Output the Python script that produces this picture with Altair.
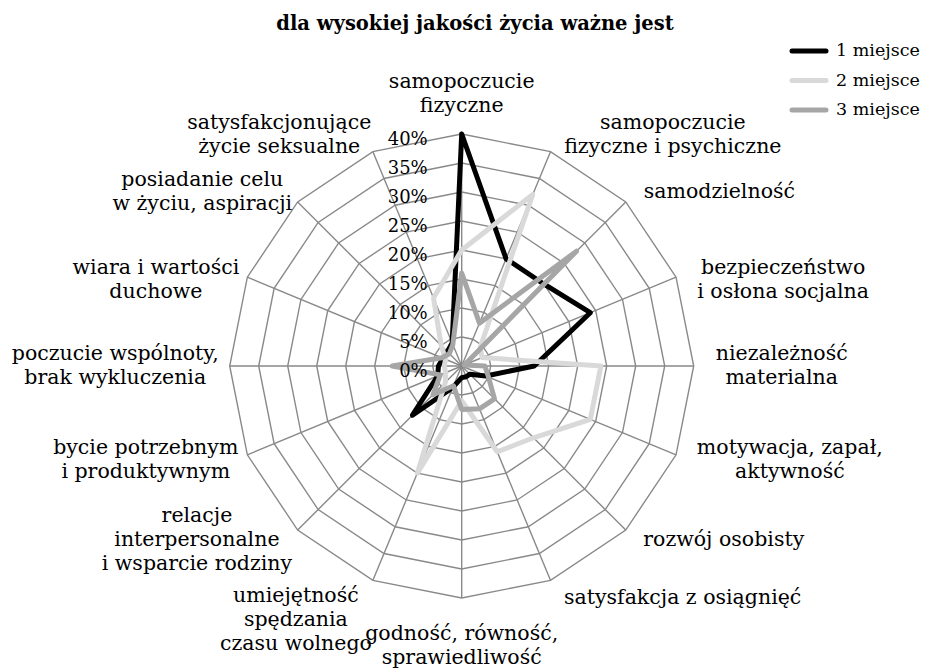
import math
import altair as alt
import pandas as pd

# ---------------- data ----------------
title_text = "dla wysokiej jakości życia ważne jest"

categories = [
    "samopoczucie\nfizyczne",
    "samopoczucie\nfizyczne i psychiczne",
    "samodzielność",
    "bezpieczeństwo\ni osłona socjalna",
    "niezależność\nmaterialna",
    "motywacja, zapał,\naktywność",
    "rozwój osobisty",
    "satysfakcja z osiągnięć",
    "godność, równość,\nsprawiedliwość",
    "umiejętność\nspędzania\nczasu wolnego",
    "relacje\ninterpersonalne\ni wsparcie rodziny",
    "bycie potrzebnym\ni produktywnym",
    "poczucie wspólnoty,\nbrak wykluczenia",
    "wiara i wartości\nduchowe",
    "posiadanie celu\nw życiu, aspiracji",
    "satysfakcjonujące\nżycie seksualne",
]

series_names = ["1 miejsce", "2 miejsce", "3 miejsce"]
first_place = [40, 20, 20, 24, 12.5, 4.5, 2, 2, 2, 4, 12, 4.5, 4, 3.5, 3.5, 4.3]
second_place = [20, 32, 4.5, 3.8, 24, 24, 17.5, 16, 6, 20, 4, 3, 3, 3, 5, 12.7]
third_place = [16, 8, 28, 0.5, 4, 5, 8, 8, 7.5, 3.7, 7, 4, 12, 3.7, 3, 4]
series_colors = ["#000000", "#d9d9d9", "#a6a6a6"]

tick_values = [0, 5, 10, 15, 20, 25, 30, 35, 40]
tick_labels = ["0%", "5%", "10%", "15%", "20%", "25%", "30%", "35%", "40%"]

# ---------------- layout ----------------
N = len(categories)
W, H = 917, 664
CX, CY = 453.7, 358.0          # centre of the radar inside the view (px)
PX = 5.8                        # pixels per percentage point
R_MAX = max(tick_values)
FONT = "DejaVu Serif"
LABEL_SIZE = 20.5
LINE_H = 24
GRID = "#898989"

x_scale = alt.Scale(domain=[-CX / PX, (W - CX) / PX], nice=False, zero=False)
y_scale = alt.Scale(domain=[-(H - CY) / PX, CY / PX], nice=False, zero=False)
color_scale = alt.Scale(domain=series_names, range=series_colors)


def X(f):
    return alt.X(f, type="quantitative", scale=x_scale, axis=None)


def Y(f):
    return alt.Y(f, type="quantitative", scale=y_scale, axis=None)


def px_to_x(p):
    return (p - CX) / PX


def px_to_y(p):
    return (CY - p) / PX


THETA = "datum.k * 2 * PI / %d" % N

# series table (loop closed by repeating the first category)
rows = []
for name, vals in zip(series_names, [first_place, second_place, third_place]):
    for j in range(N + 1):
        rows.append({"series": name, "k": j % N, "ord": j, "value": vals[j % N]})
series_df = pd.DataFrame(rows)

ring_df = pd.DataFrame(
    [{"level": L, "k": j % N, "ord": j} for L in tick_values[1:] for j in range(N + 1)]
)
spoke_df = pd.DataFrame({"k": list(range(N)), "r": [R_MAX] * N})
tick_df = pd.DataFrame({"level": tick_values, "label": tick_labels})

# approximate glyph widths (em) to place the centred multi-line category labels
GW = {'a': .596, 'b': .640, 'c': .560, 'd': .640, 'e': .592, 'f': .370, 'g': .640,
      'h': .648, 'i': .320, 'j': .316, 'k': .612, 'l': .320, 'm': .956, 'n': .648,
      'o': .602, 'p': .640, 'r': .478, 's': .513, 't': .402, 'u': .648, 'w': .818,
      'y': .565, 'z': .525, ' ': .318, ',': .318, 'ą': .596, 'ę': .592, 'ć': .560,
      'ś': .513, 'ł': .340, 'ó': .602, 'ż': .525, 'ź': .525, 'ń': .648}


def text_w(s):
    return sum(GW.get(ch, .6) for ch in s) * LABEL_SIZE


R_LABEL = 246.0    # px, anchor radius of the category labels
GAP_RIGHT = 8.0
GAP_LEFT = -4.0
lab_rows = []
for k, lab in enumerate(categories):
    th = 2 * math.pi * k / N
    s, c = math.sin(th), math.cos(th)
    lines = lab.split("\n")
    w = max(text_w(l) for l in lines)
    h = len(lines) * LINE_H
    ax, ay = R_LABEL * s, R_LABEL * c
    if abs(s) < 1e-6:
        cx, cy = 0.0, ay + math.copysign(h / 2 + (2 if c > 0 else 10), c)
    else:
        gap = GAP_RIGHT if s > 0 else GAP_LEFT
        cx = ax + math.copysign(w / 2 + gap, s)
        cy = ay
        if c < -0.9:
            cy -= 0.45 * (h - LINE_H) + 5
        elif c > 0.9:
            cy += 4
        elif c > 0.3 and abs(s) > 0.9:
            cy -= 8
    first_line_y = cy + (len(lines) - 1) * LINE_H / 2.0   # y axis points up
    lab_rows.append({"label": lab, "lx": cx / PX, "ly": first_line_y / PX})
label_df = pd.DataFrame(lab_rows)

# legend block (top right): swatch from 784 to 818 px, rows 29.5 px apart
LEG_X0, LEG_X1, LEG_TX, LEG_Y0, LEG_DY = 784, 818, 828, 43, 29.5
legend_df = pd.DataFrame([
    {"series": n,
     "x0": px_to_x(LEG_X0), "x1": px_to_x(LEG_X1), "tx": px_to_x(LEG_TX),
     "y": px_to_y(LEG_Y0 + i * LEG_DY)}
    for i, n in enumerate(series_names)
])

# ---------------- layers ----------------
rings = alt.Chart(ring_df).transform_calculate(
    theta=THETA
).transform_calculate(
    x="datum.level * sin(datum.theta)", y="datum.level * cos(datum.theta)"
).mark_line(color=GRID, strokeWidth=1.4).encode(
    x=X("x"), y=Y("y"), detail="level:N", order="ord:Q"
)

spokes = alt.Chart(spoke_df).transform_calculate(
    theta=THETA
).transform_calculate(
    x0="0", y0="0",
    x1="datum.r * sin(datum.theta)", y1="datum.r * cos(datum.theta)"
).mark_rule(color=GRID, strokeWidth=1.4).encode(
    x=X("x0"), y=Y("y0"), x2="x1:Q", y2="y1:Q"
)

lines = alt.Chart(series_df).transform_calculate(
    theta=THETA
).transform_calculate(
    x="datum.value * sin(datum.theta)", y="datum.value * cos(datum.theta)"
).mark_line(strokeWidth=5, strokeJoin="round", strokeCap="round").encode(
    x=X("x"), y=Y("y"), order="ord:Q",
    color=alt.Color("series:N", scale=color_scale, legend=None),
)

legend_swatches = alt.Chart(legend_df).mark_rule(
    strokeWidth=5, strokeCap="round"
).encode(
    x=X("x0"), x2="x1:Q", y=Y("y"),
    color=alt.Color("series:N", scale=color_scale, legend=None),
)

legend_labels = alt.Chart(legend_df).mark_text(
    font=FONT, fontSize=17.5, align="left", baseline="middle", color="black"
).encode(x=X("tx"), y=Y("y"), text="series:N")

ticks = alt.Chart(tick_df).transform_calculate(x="0", y="datum.level").mark_text(
    font=FONT, fontSize=18, align="right", baseline="alphabetic", dx=-34, dy=11,
    color="black"
).encode(x=X("x"), y=Y("y"), text="label:N")

cat_labels = alt.Chart(label_df).mark_text(
    font=FONT, fontSize=LABEL_SIZE, align="center", baseline="middle",
    lineBreak="\n", lineHeight=LINE_H, color="black"
).encode(x=X("lx"), y=Y("ly"), text="label:N")

title = alt.Chart(pd.DataFrame({"t": [title_text]})).mark_text(
    font=FONT, fontSize=19.5, fontWeight="bold", align="center",
    baseline="alphabetic", color="black"
).encode(x=alt.value(467), y=alt.value(22), text="t:N")

chart = alt.layer(
    rings, spokes, lines, ticks, cat_labels, legend_swatches, legend_labels, title
).properties(
    width=W, height=H, padding=0,
    autosize=alt.AutoSizeParams(type="none"),
).configure_view(stroke=None)

chart.save("out.html", embed_options={"renderer": "svg", "actions": False})
